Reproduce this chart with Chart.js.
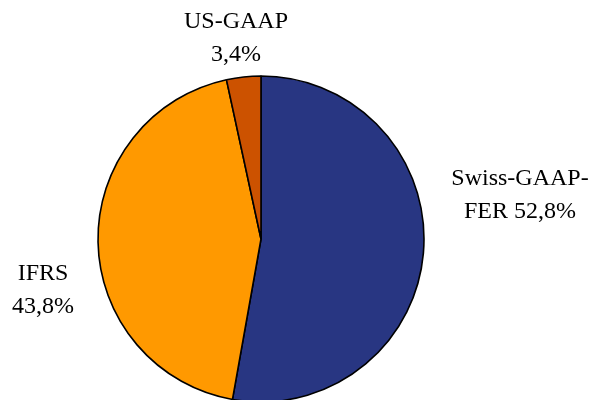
<!DOCTYPE html>
<html>
<head>
<meta charset="utf-8">
<script src="https://cdn.jsdelivr.net/npm/chart.js@4.4.1/dist/chart.umd.min.js"></script>
<style>
    html, body { margin: 0; padding: 0; background: #ffffff; }
    #wrap { width: 595px; height: 400px; overflow: hidden; position: relative; }
    #wrap canvas { display: block; }
</style>
</head>
<body>
<div id="wrap"><canvas id="pieChart" width="595" height="480"></canvas></div>
<script>
(function() {
    'use strict';

    // Accounting standards and their share (percent)
    const standards = ['Swiss-GAAP-FER', 'IFRS', 'US-GAAP'];
    const shares = [52.8, 43.8, 3.4];
    const sliceColors = ['#283682', '#ff9900', '#cc5200'];

    // Where each label block sits (center x, first baseline) and how wide it may wrap
    const labelBoxes = [
        { x: 520, y: 185, wrap: 150 },
        { x: 43, y: 279.5, wrap: 75 },
        { x: 236, y: 27.5, wrap: 110 }
    ];

    const FONT = '24px "Liberation Serif", "Times New Roman", serif';
    const LINE_HEIGHT = 33;

    function formatShare(v) {
        return v.toFixed(1).replace('.', ',') + '%';
    }

    // Split after hyphens and at spaces, then fill lines up to the wrap width
    function wrapText(ctx, text, maxWidth) {
        const tokens = text.match(/[^\s-]+-?|\s+/g) || [];
        const lines = [];
        let line = '';
        tokens.forEach(tok => {
            if (/^\s+$/.test(tok)) {
                if (line) line += ' ';
                return;
            }
            const test = line + tok;
            if (line.trim() && ctx.measureText(test.trim()).width > maxWidth) {
                lines.push(line.trim());
                line = tok;
            } else {
                line = test;
            }
        });
        if (line.trim()) lines.push(line.trim());
        return lines;
    }

    const sliceLabels = {
        id: 'sliceLabels',
        afterDraw(chart) {
            const ctx = chart.ctx;
            ctx.save();
            ctx.font = FONT;
            ctx.fillStyle = '#000000';
            ctx.textAlign = 'center';
            ctx.textBaseline = 'alphabetic';
            standards.forEach((name, i) => {
                const box = labelBoxes[i];
                const lines = wrapText(ctx, name + ' ' + formatShare(shares[i]), box.wrap);
                lines.forEach((ln, k) => {
                    ctx.fillText(ln, box.x, box.y + k * LINE_HEIGHT);
                });
            });
            ctx.restore();
        }
    };

    new Chart(document.getElementById('pieChart'), {
        type: 'pie',
        data: {
            labels: standards,
            datasets: [{
                data: shares,
                backgroundColor: sliceColors,
                borderColor: '#000000',
                borderWidth: 1.6,
                radius: 163
            }]
        },
        options: {
            responsive: false,
            animation: false,
            layout: {
                padding: { left: 0, right: 73, top: 0, bottom: 2 }
            },
            plugins: {
                legend: { display: false },
                tooltip: { enabled: false }
            }
        },
        plugins: [sliceLabels]
    });
})();
</script>
</body>
</html>
